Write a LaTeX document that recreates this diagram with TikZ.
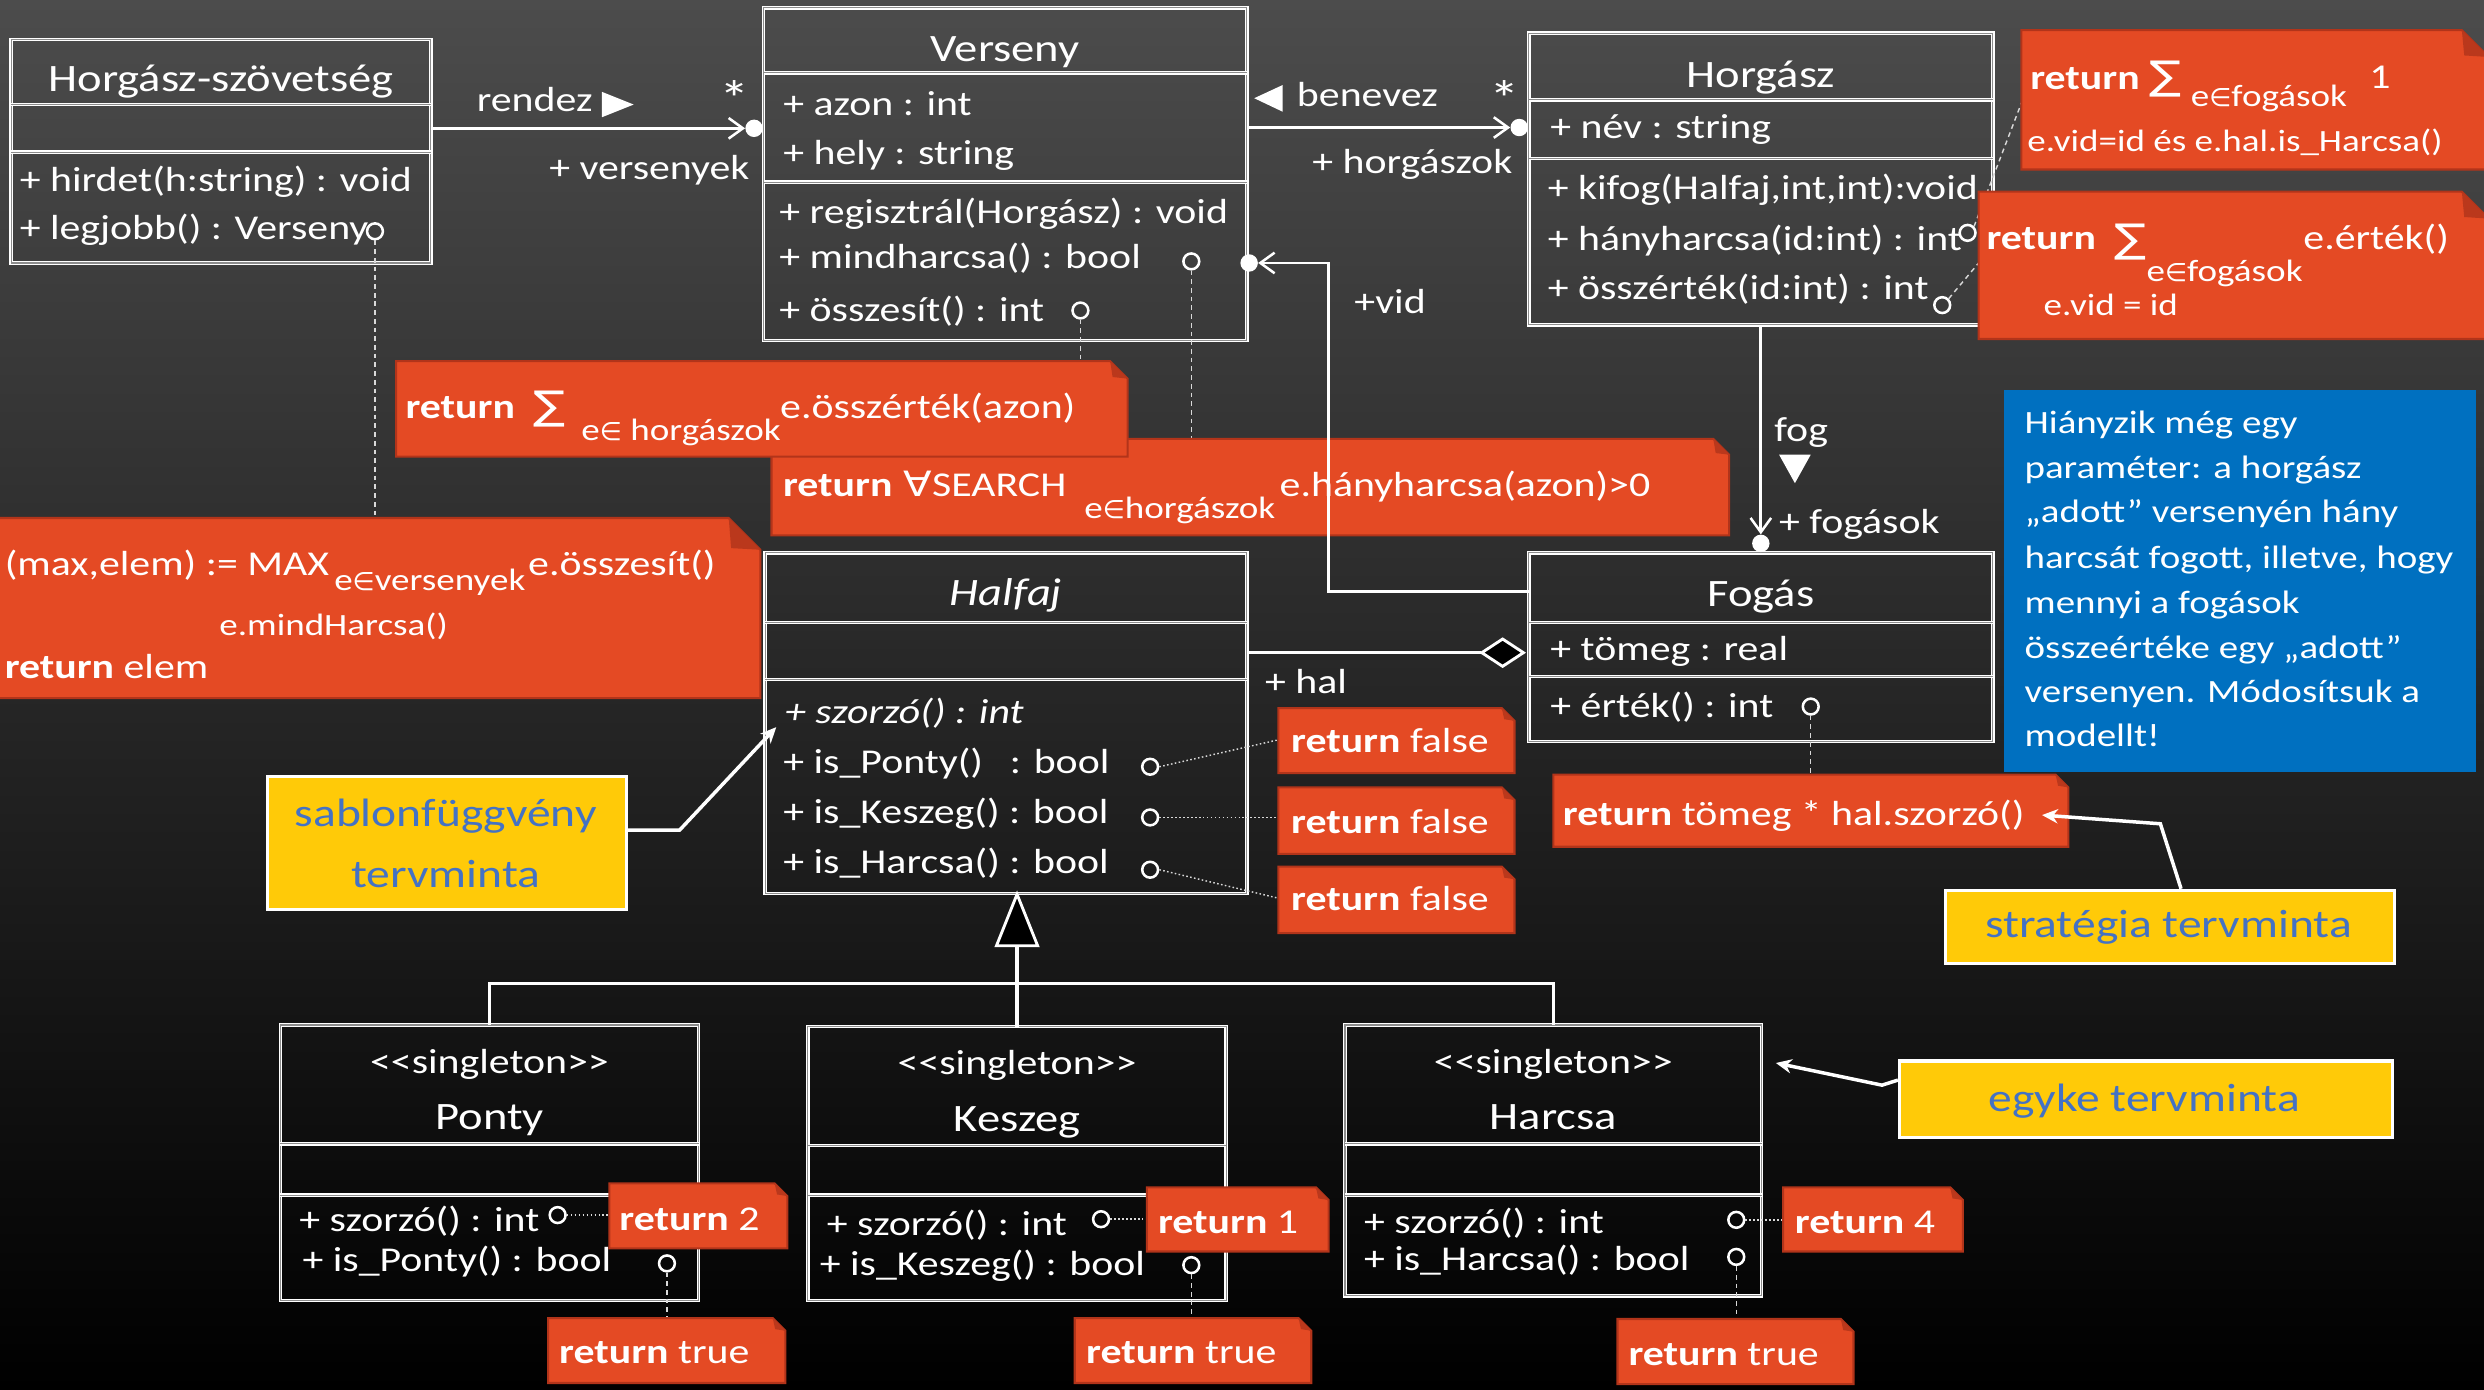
\documentclass[tikz,border=0pt]{standalone}
\usepackage{fontspec}
\setmainfont{Carlito}[FakeStretch=1.2]
\newfontfamily\dvsym{DejaVu Sans}[FakeStretch=1.2]
\newfontfamily\dvsymn{DejaVu Sans}
\newcommand\elem{{\dvsymn\fontsize{16}{16}\selectfont ∈}}
\usetikzlibrary{arrows.meta,shapes.geometric}
\definecolor{bgtop}{RGB}{76,76,76}
\definecolor{bgbot}{RGB}{0,0,0}
\definecolor{notefill}{RGB}{228,74,36}
\definecolor{noteedge}{RGB}{178,52,26}
\definecolor{notefold}{RGB}{186,56,28}
\definecolor{yfill}{RGB}{255,202,8}
\definecolor{ytext}{RGB}{68,114,196}
\definecolor{bluebox}{RGB}{0,112,192}
\definecolor{clsmid}{RGB}{140,140,140}
\newcommand\fsz[1]{\fontsize{#1}{#1}\selectfont}
\newcommand\mynote[5][8]{%
  \path[fill=notefill, draw=noteedge, line width=1.3pt] (#2,#3) -- ({#4-#1},#3) -- (#4,{#3+#1}) -- (#4,#5) -- (#2,#5) -- cycle;
  \path[fill=notefold] ({#4-#1},#3) -- ({#4-#1+1.5},{#3+#1-1}) -- (#4,{#3+#1}) -- cycle;}
\begin{document}
\begin{tikzpicture}[x=1pt,y=-1pt,
  xcls/.style={draw=white, line width=0.8pt, double=clsmid, double distance=0.7pt, anchor=north west, inner sep=0pt, outer sep=0pt},
  xline/.style={draw=white, line width=0.8pt, double=clsmid, double distance=0.7pt},
  xtx/.style={inner sep=0pt, outer sep=0pt, anchor=base west, text=white, font=\fsz{22}},
  xsm/.style={xtx, font=\fsz{19.5}},
  xbold/.style={xtx, font=\fsz{22}\bfseries},
  xtt/.style={inner sep=0pt, outer sep=0pt, anchor=base, text=white, font=\fsz{24.5}},
  xsym/.style={inner sep=0pt, outer sep=0pt, anchor=center, text=white, font=\dvsym\fsz{25}},
  xstar/.style={inner sep=0pt, outer sep=0pt, anchor=center, text=white, font=\fsz{32}},
  xbt/.style={xtx, font=\fsz{20.5}},
  xyt/.style={inner sep=0pt, outer sep=0pt, anchor=base, text=ytext, font=\fsz{25}},
  xybox/.style={fill=yfill, draw=white, line width=2pt, anchor=north west, inner sep=0pt},
  xport/.style={circle, draw=white, line width=1.6pt, minimum size=10pt, inner sep=0pt},
  xdot/.style={circle, fill=white, minimum size=11pt, inner sep=0pt},
  xdia/.style={diamond, fill=black, draw=white, line width=1.8pt, minimum width=27pt, minimum height=18pt, inner sep=0pt},
  assoc/.style={draw=white, line width=1.8pt, -{Straight Barb[length=9pt, width=13pt, line width=1.6pt]}},
  genl/.style={draw=white, line width=2pt},
  ptr/.style={draw=white, line width=2.2pt, -{Stealth[length=10pt, width=9pt]}},
  dsh/.style={draw=white!85!black, line width=0.9pt, dash pattern=on 3pt off 2.5pt},
  dtt/.style={draw=white!85!black, line width=0.9pt, dash pattern=on 1pt off 1.5pt}]
\useasboundingbox (0,0) rectangle (1568,877);
\shade[top color=bgtop, bottom color=bgbot] (0,0) rectangle (1568,877);

% ---------- class boxes ----------
\node[xcls, minimum width=265pt, minimum height=141pt] (hsz) at (7,25) {};
\draw[xline] (hsz.west |- 0,66) -- (hsz.east |- 0,66);
\draw[xline] (hsz.west |- 0,96) -- (hsz.east |- 0,96);
\node[xcls, minimum width=305pt, minimum height=210pt] (ver) at (482,5) {};
\draw[xline] (ver.west |- 0,46) -- (ver.east |- 0,46);
\draw[xline] (ver.west |- 0,115) -- (ver.east |- 0,115);
\node[xcls, minimum width=293pt, minimum height=184pt] (hor) at (965,21) {};
\draw[xline] (hor.west |- 0,63) -- (hor.east |- 0,63);
\draw[xline] (hor.west |- 0,100) -- (hor.east |- 0,100);
\node[xcls, minimum width=304pt, minimum height=215pt] (hal) at (483,349) {};
\draw[xline] (hal.west |- 0,393) -- (hal.east |- 0,393);
\draw[xline] (hal.west |- 0,429) -- (hal.east |- 0,429);
\node[xcls, minimum width=293pt, minimum height=119pt] (fog) at (965,349) {};
\draw[xline] (fog.west |- 0,393) -- (fog.east |- 0,393);
\draw[xline] (fog.west |- 0,427) -- (fog.east |- 0,427);
\node[xcls, minimum width=264pt, minimum height=174pt] (pon) at (177,647) {};
\draw[xline] (pon.west |- 0,722) -- (pon.east |- 0,722);
\draw[xline] (pon.west |- 0,754.5) -- (pon.east |- 0,754.5);
\node[xcls, minimum width=264pt, minimum height=173pt] (kes) at (510,648) {};
\draw[xline] (kes.west |- 0,723) -- (kes.east |- 0,723);
\draw[xline] (kes.west |- 0,754.5) -- (kes.east |- 0,754.5);
\node[xcls, minimum width=263pt, minimum height=171pt] (har) at (849,647) {};
\draw[xline] (har.west |- 0,722) -- (har.east |- 0,722);
\draw[xline] (har.west |- 0,754.5) -- (har.east |- 0,754.5);

% ---------- class texts ----------
\node[xtt] (hszT) at (139.5,58) {Horgász-szövetség};
\node[xtx] (hsz1) at (12.5,121) {+ hirdet(h:string) : void};
\node[xtx] (hsz2) at (12.5,151) {+ legjobb() : Verseny};

\node[xtt] (verT) at (634.5,39) {Verseny};
\node[xtx] (ver1) at (494.5,72.6) {+ azon : int};
\node[xtx] (ver2) at (494.5,104) {+ hely : string};
\node[xtx] (ver3) at (492,141) {+ regisztrál(Horgász) : void};
\node[xtx] (ver4) at (492,169.5) {+ mindharcsa() : bool};
\node[xtx] (ver5) at (492,203) {+ összesít() : int};

\node[xtt] (horT) at (1111.5,55) {Horgász};
\node[xtx] (hor1) at (978.6,87.4) {+ név : string};
\node[xtx] (hor2) at (977,126) {+ kifog(Halfaj,int,int):void};
\node[xtx] (hor3) at (977,158) {+ hányharcsa(id:int) : int};
\node[xtx] (hor4) at (977,189) {+ összérték(id:int) : int};

\node[xtt, font=\fsz{24.5}\itshape] (halT) at (635,382) {Halfaj};
\node[xtx, font=\fsz{22}\itshape] (hal1) at (495.6,456.6) {+ szorzó() : int};
\node[xtx] (hal2) at (494.5,488.5) {+ is\_Ponty()\hspace{11pt} : bool};
\node[xtx] (hal3) at (494.5,520) {+ is\_Keszeg() : bool};
\node[xtx] (hal4) at (494.5,551.5) {+ is\_Harcsa() : bool};

\node[xtt] (fogT) at (1111.5,383) {Fogás};
\node[xtx] (fog1) at (978.7,416.7) {+ tömeg : real};
\node[xtx] (fog2) at (978.7,452.6) {+ érték() : int};

\node[xtt, font=\fsz{22}] (ponS) at (309,677.6) {<\kern0pt<singleton>\kern0pt>};
\node[xtt] (ponT) at (309,713) {Ponty};
\node[xtx] (pon1) at (189,777.6) {+ szorzó() : int};
\node[xtx] (pon2) at (191,802.8) {+ is\_Ponty() : bool};

\node[xtt, font=\fsz{22}] (kesS) at (642,678) {<\kern0pt<singleton>\kern0pt>};
\node[xtt] (kesT) at (642,714.5) {Keszeg};
\node[xtx] (kes1) at (522,779.7) {+ szorzó() : int};
\node[xtx] (kes2) at (517.5,805) {+ is\_Keszeg() : bool};

\node[xtt, font=\fsz{22}] (harS) at (980.5,677.6) {<\kern0pt<singleton>\kern0pt>};
\node[xtt] (harT) at (980.5,713) {Harcsa};
\node[xtx] (har1) at (861,778.5) {+ szorzó() : int};
\node[xtx] (har2) at (861,802) {+ is\_Harcsa() : bool};

% ---------- generalization ----------
\coordinate (gtip) at (642,564.5);
\coordinate (gbase) at (642,597);
\coordinate (gbar) at (642,621);
\draw[genl] (gbase) -- (kes.north);
\draw[genl] (pon.north) -- (pon.north |- gbar) -- (har.north |- gbar) -- (har.north);
\draw[white, fill=black, line width=1.8pt, line join=miter] (gtip) -- ++(-13,32.5) -- ++(26,0) -- cycle;

% ---------- operation ports ----------
\node[xport] (c1) at (236.7,146) {};
\node[xport] (c2) at (752,165) {};
\node[xport] (c3) at (682,196) {};
\node[xport] (c4) at (1242,147) {};
\node[xport] (c5) at (1226,192.6) {};
\node[xport] (c6) at (1143,446) {};
\node[xport] (c7) at (726,484) {};
\node[xport] (c8) at (726,516) {};
\node[xport] (c9) at (726,549) {};
\node[xport] (c10) at (352,767) {};
\node[xport] (c11) at (421,797.5) {};
\node[xport] (c12) at (695,769.6) {};
\node[xport] (c13) at (752,798.6) {};
\node[xport] (c14) at (1096,770) {};
\node[xport] (c15) at (1096,793.4) {};

% note anchor coordinates
\coordinate (n1w) at (1276,65);
\coordinate (n2w) at (1249,166);
\coordinate (n3) at (250,228);
\coordinate (n4) at (487,277);
\coordinate (n5) at (0,327);
\coordinate (n9) at (980.5,489);
\coordinate (rf1) at (807,467);
\coordinate (rf2) at (807,516);
\coordinate (rf3) at (807,567);
\coordinate (r2) at (384.7,767);
\coordinate (r1) at (724,769.6);
\coordinate (r4) at (1125.6,770);
\coordinate (rt1) at (346,832);
\coordinate (rt2) at (678.4,832);
\coordinate (rt3) at (1021,832.6);

% ---------- note connectors ----------
\draw[dsh] (c1.south) -- (c1 |- n5);
\draw[dsh] (c2.south) -- (c2 |- n4);
\draw[dsh] (c3.south) -- (c3 |- n3);
\draw[dsh] (c4.north east) -- (n1w);
\draw[dsh] (c5.north east) -- (n2w);
\draw[dsh] (c6.south) -- (c6 |- n9);
\draw[dtt] (c7.east) -- (rf1);
\draw[dtt] (c8.east) -- (rf2);
\draw[dtt] (c9.east) -- (rf3);
\draw[dtt] (c10.east) -- (r2);
\draw[dtt] (c12.east) -- (r1);
\draw[dtt] (c14.east) -- (r4);
\draw[dsh] (c11.south) -- (c11 |- rt1);
\draw[dsh] (c13.south) -- (c13 |- rt2);
\draw[dsh] (c15.south) -- (c15 |- rt3);

% ---------- notes ----------
\mynote[10]{487}{277}{1091.5}{338}
\mynote[11]{250}{228}{711.8}{288.3}
\mynote[20]{-2}{327}{480}{440.7}
\mynote[17]{1276}{19}{1571}{107}
\mynote[17]{1249}{121}{1571}{214}
\mynote{807}{447}{956}{488}
\mynote{807}{497}{956}{539}
\mynote{807}{547}{956}{589}
\mynote{980.5}{489}{1305.6}{534.5}
\mynote{384.7}{747}{497}{788}
\mynote{724}{749.5}{838.7}{790}
\mynote{1125.6}{749.5}{1239}{790}
\mynote{346}{832}{495.8}{873}
\mynote{678.4}{832}{827.7}{873}
\mynote{1021}{832.6}{1170}{873.7}

% note texts
\node[xbold] (n1a) at (1281.6,56.4) {return};
\node[xsym] (n1b) at (1367,50) {∑};
\node[xsm] (n1c) at (1383,67) {e\elem fogások};
\node[xtx] (n1d) at (1495.6,55.8) {1};
\node[xsm] (n1e) at (1279.8,95.8) {e.vid=id és e.hal.is\_Harcsa()};

\node[xbold] (n2a) at (1254,157.8) {return};
\node[xsym] (n2b) at (1345,152.5) {∑};
\node[xsm] (n2c) at (1355,177.8) {e\elem fogások};
\node[xtx] (n2d) at (1454,157.8) {e.érték()};
\node[xsm] (n2e) at (1290,198.9) {e.vid = id};

\node[xbold] (n3a) at (256,264) {return};
\node[xsym] (n3b) at (347,258) {∑};
\node[xsm] (n3c) at (367,277.8) {e\elem\ horgászok};
\node[xtx] (n3d) at (492.5,264) {e.összérték(azon)};

\node[xbold] (n4a) at (494.3,313.5) {return};
\node[xtx] (n4b) at (570.4,313.5) {{\dvsym ∀}SEARCH};
\node[xsm] (n4c) at (684.5,327) {e\elem horgászok};
\node[xtx] (n4d) at (807.8,313.5) {e.hányharcsa(azon)>0};

\node[xtx] (n5a) at (3,363) {(max,elem) := MAX};
\node[xsm] (n5b) at (211,372.5) {e\elem versenyek};
\node[xtx] (n5c) at (333.4,363) {e.összesít()};
\node[xsm] (n5d) at (138.5,401) {e.mindHarcsa()};
\node[xtx] (n5e) at (3,428) {\textbf{return} elem};

\node[xtx] (rf1t) at (815,475) {\textbf{return} false};
\node[xtx] (rf2t) at (815,526) {\textbf{return} false};
\node[xtx] (rf3t) at (815,574.5) {\textbf{return} false};
\node[xtx] (n9t) at (986.6,520.8) {\textbf{return} tömeg * hal.szorzó()};
\node[xtx] (r2t) at (391,776.5) {\textbf{return} 2};
\node[xtx] (r1t) at (731,778.5) {\textbf{return} 1};
\node[xtx] (r4t) at (1133,778.5) {\textbf{return} 4};
\node[xtx] (rt1t) at (353,860.6) {\textbf{return} true};
\node[xtx] (rt2t) at (685.6,860.6) {\textbf{return} true};
\node[xtx] (rt3t) at (1028,861.7) {\textbf{return} true};

% ---------- blue box ----------
\node[fill=bluebox, minimum width=298pt, minimum height=241pt, anchor=north west, inner sep=0pt] (blu) at (1265,246) {};
\node[xbt] (b1) at (1278,273.5) {Hiányzik még egy};
\node[xbt] (b2) at (1278,301.9) {paraméter: a horgász};
\node[xbt] (b3) at (1278,330) {„adott” versenyén hány};
\node[xbt] (b4) at (1278,358.6) {harcsát fogott, illetve, hogy};
\node[xbt] (b5) at (1278,387) {mennyi a fogások};
\node[xbt] (b6) at (1278,415.5) {összeértéke egy „adott”};
\node[xbt] (b7) at (1278,443.6) {versenyen. Módosítsuk a};
\node[xbt] (b8) at (1278,471.4) {modellt!};

% ---------- yellow boxes ----------
\node[xybox, minimum width=226.5pt, minimum height=84pt] (sab) at (168,489) {};
\node[xyt] (sab1) at (281.3,522) {sablonfüggvény};
\node[xyt] (sab2) at (281.3,560) {tervminta};
\node[xybox, minimum width=283.5pt, minimum height=46pt] (str) at (1227,561) {};
\node[xyt] (str1) at (1368.8,592) {stratégia tervminta};
\node[xybox, minimum width=311pt, minimum height=48.3pt] (egy) at (1198,668.7) {};
\node[xyt] (egy1) at (1353.5,701.8) {egyke tervminta};

\coordinate (sabk) at (429,524);
\coordinate (sabt) at (490,459);
\coordinate (strk) at (1363.7,520);
\coordinate (strt) at (1289,514.5);
\coordinate (egyk) at (1188,685);
\coordinate (egyt) at (1121,671);
\draw[ptr] (sab.east |- sabk) -- (sabk) -- (sabt);
\draw[ptr] ([xshift=7pt]str.north) -- (strk) -- (strt);
\draw[ptr] (egy.west |- 0,681.8) -- (egyk) -- (egyt);

% ---------- associations ----------
\node[xdot] (d1) at (476,81) {};
\draw[assoc] (hsz.east |- d1) -- (d1.west);
\node[xdot] (d2) at (959,80.5) {};
\draw[assoc] (ver.east |- d2) -- (d2.west);
\node[xdot] (d3) at (1111.5,343) {};
\draw[assoc] (hor.south) -- (d3.north);
\node[xdot] (d4) at (788.5,166) {};
\coordinate (vidc) at (838.5,373.5);
\draw[assoc] (fog.west |- vidc) -- (vidc) -- (vidc |- d4) -- (d4.east);
\draw[white, line width=1.8pt] (hal.east |- 0,412) -- (935,412);
\node[xdia] (dm) at (948.5,412) {};

% labels
\node[xtx] (lrend) at (301,70.5) {rendez};
\fill[white] (380,58) -- (380,74) -- (400,66) -- cycle;
\node[xstar] (lst1) at (463.8,62) {*};
\node[xtx, anchor=base east] (lvers) at (473,113.6) {+ versenyek};
\fill[white] (809.6,53.7) -- (809.6,70.5) -- (791.7,62) -- cycle;
\node[xtx] (lben) at (818.7,67.4) {benevez};
\node[xstar] (lst2) at (950,62) {*};
\node[xtx, anchor=base east] (lhor) at (954.6,109.4) {+ horgászok};
\node[xtx] (lfog) at (1120,278.8) {fog};
\fill[white] (1123,287) -- (1143,287) -- (1133,305) -- cycle;
\node[xtx] (lfogs) at (1123,336.6) {+ fogások};
\node[xtx] (lvid) at (855,197.8) {+vid};
\node[xtx] (lhal) at (798.6,437.6) {+ hal};
\end{tikzpicture}
\end{document}
